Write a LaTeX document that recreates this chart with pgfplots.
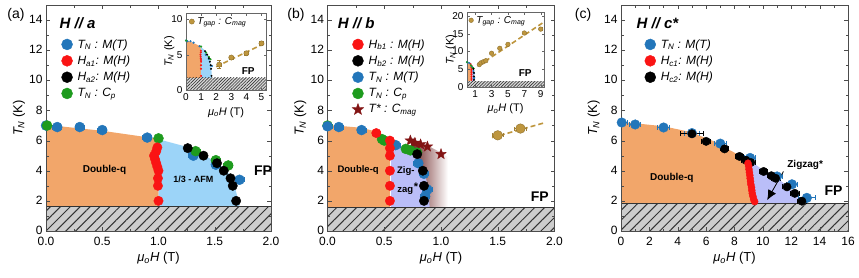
\documentclass[border=0pt]{standalone}
\usepackage{fontspec}
\setmainfont{Liberation Sans}
\setsansfont{Liberation Sans}
\usepackage{pgfplots}
\pgfplotsset{compat=1.18}
\usetikzlibrary{patterns.meta,arrows.meta}
\definecolor{cblue}{RGB}{35,118,186}
\definecolor{cred}{RGB}{250,20,20}
\definecolor{cgreen}{RGB}{30,155,30}
\definecolor{cstar}{RGB}{130,20,20}
\definecolor{cgold}{RGB}{190,150,62}
\definecolor{corange}{RGB}{242,166,106}
\definecolor{clblue}{RGB}{156,212,248}
\definecolor{clav}{RGB}{186,190,248}
\definecolor{chatch}{RGB}{205,205,205}
\definecolor{cbrown}{RGB}{110,40,40}
\definecolor{cbrownm}{RGB}{185,148,148}
\pgfdeclareplotmark{fstar}{%
  \pgfpathmoveto{\pgfpointpolar{90}{\pgfplotmarksize}}%
  \pgfpathlineto{\pgfpointpolar{126}{0.42\pgfplotmarksize}}%
  \pgfpathlineto{\pgfpointpolar{162}{\pgfplotmarksize}}%
  \pgfpathlineto{\pgfpointpolar{198}{0.42\pgfplotmarksize}}%
  \pgfpathlineto{\pgfpointpolar{234}{\pgfplotmarksize}}%
  \pgfpathlineto{\pgfpointpolar{270}{0.42\pgfplotmarksize}}%
  \pgfpathlineto{\pgfpointpolar{306}{\pgfplotmarksize}}%
  \pgfpathlineto{\pgfpointpolar{342}{0.42\pgfplotmarksize}}%
  \pgfpathlineto{\pgfpointpolar{18}{\pgfplotmarksize}}%
  \pgfpathlineto{\pgfpointpolar{54}{0.42\pgfplotmarksize}}%
  \pgfpathclose\pgfusepathqfillstroke}
\pgfplotsset{
  mainax/.style={scale only axis, height=226pt, ymin=0, ymax=15,
    ytick={0,2,...,14}, minor y tick num=1, minor x tick num=1,
    tick align=inside, axis on top,
    axis line style={black!70, line width=0.6pt}, tick style={black!70},
    major tick length=4pt, minor tick length=2.5pt,
    ticklabel style={font=\fontsize{12}{14}\selectfont},
    xticklabel style={yshift=-3pt},
    yticklabel style={yshift=0.5pt},
    /pgf/number format/assume math mode=true,
    label style={font=\fontsize{13}{15}\selectfont},
    xlabel={\textit{μ\textsubscript{o}H} (T)},
    ylabel={\textit{T\textsubscript{N}} (K)},
    ylabel style={at={(axis description cs:-0.12,0.5)}, anchor=center},
    xlabel style={at={(axis description cs:0.5,-0.12)}, anchor=center},
    legend style={draw=none, fill=none, font=\fontsize{12}{14}\selectfont\itshape,
      anchor=north west, row sep=2.2pt, column sep=3pt},
    legend cell align=left},
  inax/.style={scale only axis, tick align=inside, axis on top,
    axis background/.style={fill=white},
    axis line style={black!60, line width=0.5pt}, tick style={black!60},
    major tick length=2.5pt,
    ticklabel style={font=\fontsize{10}{12}\selectfont},
    /pgf/number format/assume math mode=true,
    xlabel={\textit{μ\textsubscript{o}H} (T)},
    ylabel={\textit{T\textsubscript{N}} (K)},
    label style={font=\fontsize{11}{13}\selectfont},
    ylabel style={at={(axis description cs:-0.21,0.5)}, anchor=center},
    xlabel style={at={(axis description cs:0.5,-0.29)}, anchor=center},
    legend style={draw=none, fill=none, font=\fontsize{10}{12}\selectfont\itshape,
      anchor=north west, inner sep=0pt, column sep=1pt},
    legend cell align=left},
  mk/.style={only marks, mark=*, mark size=#1},
  ebx/.style={error bars/x dir=both, error bars/x explicit,
    error bars/error bar style={#1, line width=0.8pt},
    error bars/error mark options={rotate=90, #1, mark size=2.5pt, line width=0.8pt}},
  pb/.style={mk=#1, color=cblue, mark options={fill=cblue}, ebx=cblue},
  pr/.style={mk=#1, color=cred, mark options={fill=cred}, ebx=cred},
  pk/.style={mk=#1, color=black, mark options={fill=black}, ebx=black},
  pg/.style={mk=#1, color=cgreen, mark options={fill=cgreen}, ebx=cgreen},
  pgold/.style={mk=#1, color=cgold!80!black, mark options={fill=cgold, draw=cgold!75!black},
    error bars/x dir=both, error bars/x explicit, error bars/y dir=both, error bars/y explicit,
    error bars/error bar style={cgold!85!black, line width=0.7pt},
    error bars/error mark options={rotate=90, cgold!85!black, mark size=2pt, line width=0.7pt}},
  goldline/.style={cgold, line width=1.6pt, dash pattern=on 5pt off 3pt},
}
\newcommand{\fsz}[1]{\fontsize{#1}{#1}\selectfont}
\begin{document}
\begin{tikzpicture}
\useasboundingbox (0,0) rectangle (859pt,277pt);
\node[font=\fsz{14}] at (16pt,262pt) {(a)};
\node[font=\fsz{14}] at (296pt,262pt) {(b)};
\node[font=\fsz{14}] at (583pt,262pt) {(c)};
% ================= (a) =================
\begin{axis}[mainax, at={(46pt,46pt)}, anchor=south west, width=225pt,
  xmin=0, xmax=2, xtick={0,0.5,...,2},
  xticklabel style={/pgf/number format/.cd, fixed, fixed zerofill, precision=1},
  legend style={at={(axis cs:0.11,13.0)}}]
\addplot[fill=corange, draw=none, forget plot] coordinates {(0,1.65) (0,7.05) (0.5,6.65) (0.97,6.15) (0.985,5.5) (0.96,5.0) (0.975,4.5) (0.995,4.0) (1.0,3.0) (1.0,1.65)} -- cycle;
\addplot[fill=clblue, draw=none, forget plot] coordinates {(0.97,6.15) (1.27,5.55) (1.4,5.05) (1.52,4.55) (1.6,4.05) (1.66,3.45) (1.69,2.6) (1.72,1.65) (1.0,1.65) (1.0,3.0) (0.995,4.0) (0.975,4.5) (0.96,5.0) (0.985,5.5)} -- cycle;
\addplot[fill=chatch, draw=none, forget plot] coordinates {(0,0) (2,0) (2,1.65) (0,1.65)} -- cycle;
\addplot[draw=none, pattern={Lines[angle=45,distance=7pt,line width=1pt]}, pattern color=black!80, forget plot] coordinates {(0,0) (2,0) (2,1.65) (0,1.65)} -- cycle;
\addplot[black!80, line width=0.8pt, forget plot] coordinates {(0,1.65) (2,1.65)};
\addplot[pb=5pt, forget plot] coordinates {(0.0,7.0) +- (0.04,0) (0.1,6.9) +- (0.04,0) (0.3,6.9) +- (0.04,0) (0.5,6.7) +- (0.04,0) (0.9,6.2) +- (0.04,0) (1.31,5.0) +- (0.04,0) (1.51,4.4) +- (0.04,0) (1.72,3.4) +- (0.04,0)};
\addplot[pg=5pt, forget plot] coordinates {(0.01,7.0) +- (0.03,0) (1.0,6.15) +- (0.03,0) (1.33,5.3) +- (0.04,0) (1.51,4.7) +- (0.04,0) (1.62,4.35) +- (0.04,0)};
\addplot[pr=4.7pt, forget plot] coordinates {(0.99,5.55) +- (0,0) (0.98,5.3) +- (0,0) (0.96,5.0) +- (0,0) (0.97,4.75) +- (0,0) (0.98,4.5) +- (0,0) (0.99,4.25) +- (0,0) (1.0,4.0) +- (0,0) (0.995,3.5) +- (0,0) (0.995,3.0) +- (0,0) (1.0,2.0) +- (0,0)};
\addplot[pk=4.7pt, forget plot] coordinates {(1.26,5.5) +- (0,0) (1.40,5.0) +- (0,0) (1.52,4.5) +- (0,0) (1.58,4.0) +- (0,0) (1.64,3.5) +- (0,0) (1.66,3.0) +- (0,0) (1.69,2.0) +- (0,0)};
\addlegendimage{mk=5.5pt, color=cblue, mark options={fill=cblue}}
\addlegendentry{T\textsubscript{N} : M(T)}
\addlegendimage{mk=5.5pt, color=cred, mark options={fill=cred}}
\addlegendentry{H\textsubscript{a1}: M(H)}
\addlegendimage{mk=5.5pt, color=black, mark options={fill=black}}
\addlegendentry{H\textsubscript{a2}: M(H)}
\addlegendimage{mk=5.5pt, color=cgreen, mark options={fill=cgreen}}
\addlegendentry{T\textsubscript{N} : C\textsubscript{p}}
\node[anchor=west, font=\fsz{15}\bfseries\itshape] at (axis cs:0.09,13.8) {H // a};
\node[font=\fsz{10}\bfseries] at (axis cs:0.52,4.03) {Double-q};
\node[font=\fsz{9}\bfseries] at (axis cs:1.31,3.41) {1/3 - AFM};
\node[font=\fsz{14}\bfseries] at (axis cs:1.93,4.0) {FP};
\end{axis}
% inset (a)
\begin{axis}[inax, at={(186pt,187pt)}, anchor=south west, width=80pt, height=77pt,
  xmin=0, xmax=5.3, ymin=0, ymax=10.9, xtick={0,...,5}, ytick={0,5,10},
  legend style={at={(axis cs:0.2,10.6)}}]
\addplot[fill=corange, draw=none, forget plot] coordinates {(0,1.7) (0,7.05) (0.5,6.65) (0.97,6.15) (0.985,5.5) (0.96,5.0) (0.975,4.5) (0.995,4.0) (1.0,3.0) (1.0,1.7)} -- cycle;
\addplot[fill=clblue, draw=none, forget plot] coordinates {(0.97,6.15) (1.27,5.55) (1.4,5.05) (1.52,4.55) (1.6,4.05) (1.66,3.45) (1.69,2.6) (1.72,1.7) (1.0,1.7) (1.0,3.0) (0.995,4.0) (0.975,4.5) (0.96,5.0) (0.985,5.5)} -- cycle;
\addplot[fill=chatch!80, draw=none, forget plot] coordinates {(0,0) (5.3,0) (5.3,1.7) (0,1.7)} -- cycle;
\addplot[draw=none, pattern={Lines[angle=45,distance=2.2pt,line width=0.6pt]}, pattern color=black!80, forget plot] coordinates {(0,0) (5.3,0) (5.3,1.7) (0,1.7)} -- cycle;
\addplot[mk=0.9pt, cblue, forget plot] coordinates {(0.0,7.0) (0.1,6.9) (0.3,6.9) (0.5,6.7) (0.9,6.2) (1.31,5.0) (1.51,4.4) (1.72,3.4)};
\addplot[mk=0.9pt, cgreen, forget plot] coordinates {(0.01,7.0) (1.0,6.15) (1.33,5.3) (1.51,4.7) (1.62,4.35)};
\addplot[mk=0.8pt, cred, forget plot] coordinates {(0.99,5.55) (0.98,5.3) (0.96,5.0) (0.97,4.75) (0.98,4.5) (0.99,4.25) (1.0,4.0) (0.995,3.5) (0.995,3.0) (1.0,2.0)};
\addplot[mk=0.8pt, black, forget plot] coordinates {(1.26,5.5) (1.40,5.0) (1.52,4.5) (1.58,4.0) (1.64,3.5) (1.66,3.0) (1.69,2.0)};
\addplot[goldline, forget plot] coordinates {(2.0,3.3) (5.2,6.6)};
\addplot[pgold=2.6pt, forget plot] coordinates {(2.2,3.6) +- (0.12,0.6) (3.0,4.6) +- (0.15,0.15) (4.0,5.2) +- (0.15,0.3) (5.0,6.6) +- (0.15,0.3)};
\addlegendimage{mk=2.6pt, color=cgold!75!black, mark options={fill=cgold}}
\addlegendentry{T\textsubscript{gap} : C\textsubscript{mag}}
\node[font=\fsz{10}\bfseries] at (axis cs:4.12,2.75) {FP};
\end{axis}
% ================= (b) =================
\begin{axis}[mainax, at={(327.5pt,46pt)}, anchor=south west, width=227pt,
  xmin=0, xmax=2, xtick={0,0.5,...,2},
  xticklabel style={/pgf/number format/.cd, fixed, fixed zerofill, precision=1},
  legend style={at={(axis cs:0.19,13.0)}}]
\addplot[fill=corange, draw=none, forget plot] coordinates {(0,1.55) (0,7.05) (0.3,6.85) (0.43,6.6) (0.55,6.15) (0.55,1.55)} -- cycle;
\addplot[draw=none, left color=cbrown, middle color=cbrownm, right color=white, forget plot] coordinates {(0.74,1.55) (0.74,6.05) (0.8,5.9) (0.9,5.6) (1.0,5.2) (1.06,4.9) (1.06,1.55)} -- cycle;
\addplot[fill=clav, draw=none, forget plot] coordinates {(0.56,1.55) (0.56,6.1) (0.6,5.8) (0.7,5.5) (0.8,5.2) (0.81,4.5) (0.86,3.75) (0.89,2.75) (0.9,1.55)} -- cycle;
\addplot[fill=chatch, draw=none, forget plot] coordinates {(0,0) (2,0) (2,1.55) (0,1.55)} -- cycle;
\addplot[draw=none, pattern={Lines[angle=45,distance=7pt,line width=1pt]}, pattern color=black!80, forget plot] coordinates {(0,0) (2,0) (2,1.55) (0,1.55)} -- cycle;
\addplot[black!80, line width=0.8pt, forget plot] coordinates {(0,1.55) (2,1.55)};
\addplot[goldline, forget plot] coordinates {(1.45,6.2) (1.92,7.2)};
\addplot[pgold=4.8pt, forget plot] coordinates {(1.5,6.35) +- (0.05,0.15) (1.7,6.8) +- (0.05,0.15)};
\addplot[mk=5.5pt, mark=fstar, color=cstar, mark options={fill=cstar}, forget plot] coordinates {(0.73,6.0) (0.77,5.85) (0.82,5.75) (0.88,5.6) (1.0,5.1)};
\addplot[pg=5pt, forget plot] coordinates {(0.0,7.0) +- (0.03,0) (0.48,6.1) +- (0.03,0) (0.5,6.0) +- (0.03,0) (0.69,5.45) +- (0.03,0) (0.73,5.35) +- (0.03,0) (0.79,5.2) +- (0.03,0)};
\addplot[pb=5pt, forget plot] coordinates {(0.0,6.95) +- (0.04,0) (0.1,6.9) +- (0.04,0) (0.3,6.7) +- (0.04,0) (0.6,5.7) +- (0.04,0) (0.8,4.5) +- (0.04,0) (0.85,3.8) +- (0.04,0) (0.88,2.75) +- (0.04,0) (0.86,2.3) +- (0.04,0)};
\addplot[pk=4.7pt, forget plot] coordinates {(0.79,5.1) +- (0,0) (0.84,4.0) +- (0,0) (0.85,3.0) +- (0,0) (0.85,2.0) +- (0,0)};
\addplot[pr=4.7pt, forget plot] coordinates {(0.43,6.5) +- (0.035,0) (0.55,6.0) +- (0.03,0) (0.55,5.5) +- (0.03,0) (0.55,5.0) +- (0.03,0) (0.55,4.0) +- (0.03,0) (0.55,3.0) +- (0.03,0) (0.55,2.0) +- (0.03,0)};
\addlegendimage{mk=5.5pt, color=cred, mark options={fill=cred}}
\addlegendentry{H\textsubscript{b1} : M(H)}
\addlegendimage{mk=5.5pt, color=black, mark options={fill=black}}
\addlegendentry{H\textsubscript{b2} : M(H)}
\addlegendimage{mk=5.5pt, color=cblue, mark options={fill=cblue}}
\addlegendentry{T\textsubscript{N} : M(T)}
\addlegendimage{mk=5.5pt, color=cgreen, mark options={fill=cgreen}}
\addlegendentry{T\textsubscript{N} : C\textsubscript{p}}
\addlegendimage{mk=6pt, mark=fstar, color=cstar, mark options={fill=cstar}}
\addlegendentry{T* : C\textsubscript{mag}}
\node[anchor=west, font=\fsz{15}\bfseries\itshape] at (axis cs:0.06,13.8) {H // b};
\node[font=\fsz{9.5}\bfseries] at (axis cs:0.27,4.03) {Double-q};
\node[font=\fsz{9.5}\bfseries] at (axis cs:0.69,3.97) {Zig-};
\node[font=\fsz{9.5}\bfseries] at (axis cs:0.685,2.66) {zag};
\node[font=\fsz{11}\bfseries] at (axis cs:0.78,2.97) {*};
\node[font=\fsz{14}\bfseries] at (axis cs:1.87,2.3) {FP};
\end{axis}
% inset (b)
\begin{axis}[inax, at={(467pt,190pt)}, anchor=south west, width=77pt, height=74.6pt,
  xmin=0, xmax=9.4, ymin=0, ymax=21, xtick={1,3,5,7,9}, ytick={0,5,10,15,20},
  legend style={at={(axis cs:0.2,20.6)}}]
\addplot[fill=corange, draw=none, forget plot] coordinates {(0,1.6) (0,7.05) (0.3,6.85) (0.55,6.15) (0.55,1.6)} -- cycle;
\addplot[fill=clav, draw=none, forget plot] coordinates {(0.56,1.6) (0.56,6.1) (0.7,5.5) (0.8,5.2) (0.86,3.75) (0.9,1.6)} -- cycle;
\addplot[fill=chatch!80, draw=none, forget plot] coordinates {(0,0) (9.4,0) (9.4,1.6) (0,1.6)} -- cycle;
\addplot[draw=none, pattern={Lines[angle=45,distance=2.2pt,line width=0.6pt]}, pattern color=black!80, forget plot] coordinates {(0,0) (9.4,0) (9.4,1.6) (0,1.6)} -- cycle;
\addplot[mk=0.8pt, cred, forget plot] coordinates {(0.43,6.5) (0.55,6.0) (0.55,5.5) (0.55,5.0) (0.55,4.5) (0.55,4.0) (0.55,3.5) (0.55,3.0) (0.55,2.5) (0.55,2.0)};
\addplot[mk=0.8pt, cblue, forget plot] coordinates {(0.0,6.95) (0.1,6.9) (0.3,6.7) (0.6,5.7) (0.8,4.5) (0.85,3.8) (0.88,2.75) (0.86,2.3)};
\addplot[mk=0.8pt, cgreen, forget plot] coordinates {(0.0,7.0) (0.48,6.1) (0.5,6.0) (0.69,5.45) (0.73,5.35) (0.79,5.2)};
\addplot[mk=0.8pt, black, forget plot] coordinates {(0.79,5.1) (0.84,4.0) (0.85,3.0) (0.85,2.0)};
\addplot[goldline, forget plot] coordinates {(1.4,6.0) (9.2,18.0)};
\addplot[pgold=2.3pt, forget plot] coordinates {(1.5,6.3) +- (0,0) (1.7,6.8) +- (0,0) (2.0,7.1) +- (0,0) (2.3,7.4) +- (0,0) (3.0,9.5) +- (0,0) (4.0,10.9) +- (0,0) (5.0,12.0) +- (0,0) (7.0,15.2) +- (0,0) (9.0,16.3) +- (0,0.4)};
\addlegendimage{mk=2.3pt, color=cgold!75!black, mark options={fill=cgold}}
\addlegendentry{T\textsubscript{gap} : C\textsubscript{mag}}
\node[font=\fsz{10}\bfseries] at (axis cs:7.1,3.9) {FP};
\end{axis}
% ================= (c) =================
\begin{axis}[mainax, at={(621pt,46pt)}, anchor=south west, width=227pt,
  xmin=0, xmax=16, xtick={0,2,...,16},
  legend style={at={(axis cs:1.45,13.0)}}]
\addplot[fill=corange, draw=none, forget plot] coordinates {(0,1.8) (0,7.25) (1,7.15) (3,6.95) (5,6.55) (6,6.15) (7,5.8) (7.3,5.55) (8.3,5.05) (8.9,4.7) (9.0,4.55) (9.05,4.1) (9.1,3.5) (9.2,2.9) (9.3,2.3) (9.45,1.8)} -- cycle;
\addplot[fill=clav, draw=none, forget plot] coordinates {(9.0,4.55) (9.2,4.6) (10,4.05) (10.7,3.75) (11.7,3.0) (12.2,2.5) (12.8,1.8) (9.45,1.8) (9.3,2.3) (9.2,2.9) (9.1,3.5) (9.05,4.1)} -- cycle;
\addplot[fill=chatch, draw=none, forget plot] coordinates {(0,0) (16,0) (16,1.8) (0,1.8)} -- cycle;
\addplot[draw=none, pattern={Lines[angle=45,distance=7pt,line width=1pt]}, pattern color=black!80, forget plot] coordinates {(0,0) (16,0) (16,1.8) (0,1.8)} -- cycle;
\addplot[black!80, line width=0.8pt, forget plot] coordinates {(0,1.8) (16,1.8)};
\addplot[pb=4.8pt, forget plot] coordinates {(0.05,7.2) +- (0.4,0) (1.0,7.07) +- (0.4,0) (3.0,6.87) +- (0.4,0) (5.0,6.5) +- (0.5,0) (7.0,5.8) +- (0.4,0) (9.1,4.85) +- (0.4,0) (11.0,3.62) +- (0.4,0) (12.05,3.1) +- (0.4,0) (13.1,2.2) +- (0.6,0)};
\addplot[pk=4.2pt, forget plot] coordinates {(5.0,6.45) +- (0.8,0) (6.0,5.95) +- (0.3,0) (7.3,5.45) +- (0.3,0) (8.35,4.95) +- (0.3,0) (8.8,4.7) +- (0.3,0) (9.15,4.55) +- (0.3,0) (10.05,3.95) +- (0.3,0) (10.6,3.67) +- (0.3,0) (10.9,3.5) +- (0.3,0) (11.7,2.93) +- (0.3,0) (12.25,2.5) +- (0.3,0) (12.75,1.98) +- (0.3,0)};
\addplot[pr=3.5pt, forget plot] coordinates {(8.95,4.5) +- (0,0) (9.0,4.3) +- (0,0) (9.02,4.1) +- (0,0) (9.05,3.9) +- (0,0) (9.08,3.7) +- (0,0) (9.1,3.5) +- (0,0) (9.13,3.3) +- (0,0) (9.15,3.1) +- (0,0) (9.2,2.9) +- (0,0) (9.22,2.7) +- (0,0) (9.25,2.5) +- (0,0) (9.3,2.3) +- (0,0) (9.35,2.1) +- (0,0) (9.42,1.95) +- (0,0)};
\addplot[black, line width=0.8pt, -{Latex[length=10pt,width=9pt]}, forget plot] coordinates {(11.45,3.95) (10.3,2.05)};
\addlegendimage{mk=5.5pt, color=cblue, mark options={fill=cblue}}
\addlegendentry{T\textsubscript{N} : M(T)}
\addlegendimage{mk=5.5pt, color=cred, mark options={fill=cred}}
\addlegendentry{H\textsubscript{c1}: M(H)}
\addlegendimage{mk=5.5pt, color=black, mark options={fill=black}}
\addlegendentry{H\textsubscript{c2}: M(H)}
\node[anchor=west, font=\fsz{15}\bfseries\itshape] at (axis cs:0.85,13.8) {H // c*};
\node[font=\fsz{10}\bfseries] at (axis cs:3.58,3.55) {Double-q};
\node[font=\fsz{10}\bfseries] at (axis cs:12.98,4.36) {Zigzag*};
\node[font=\fsz{14}\bfseries] at (axis cs:14.98,2.7) {FP};
\end{axis}
\end{tikzpicture}
\end{document}
